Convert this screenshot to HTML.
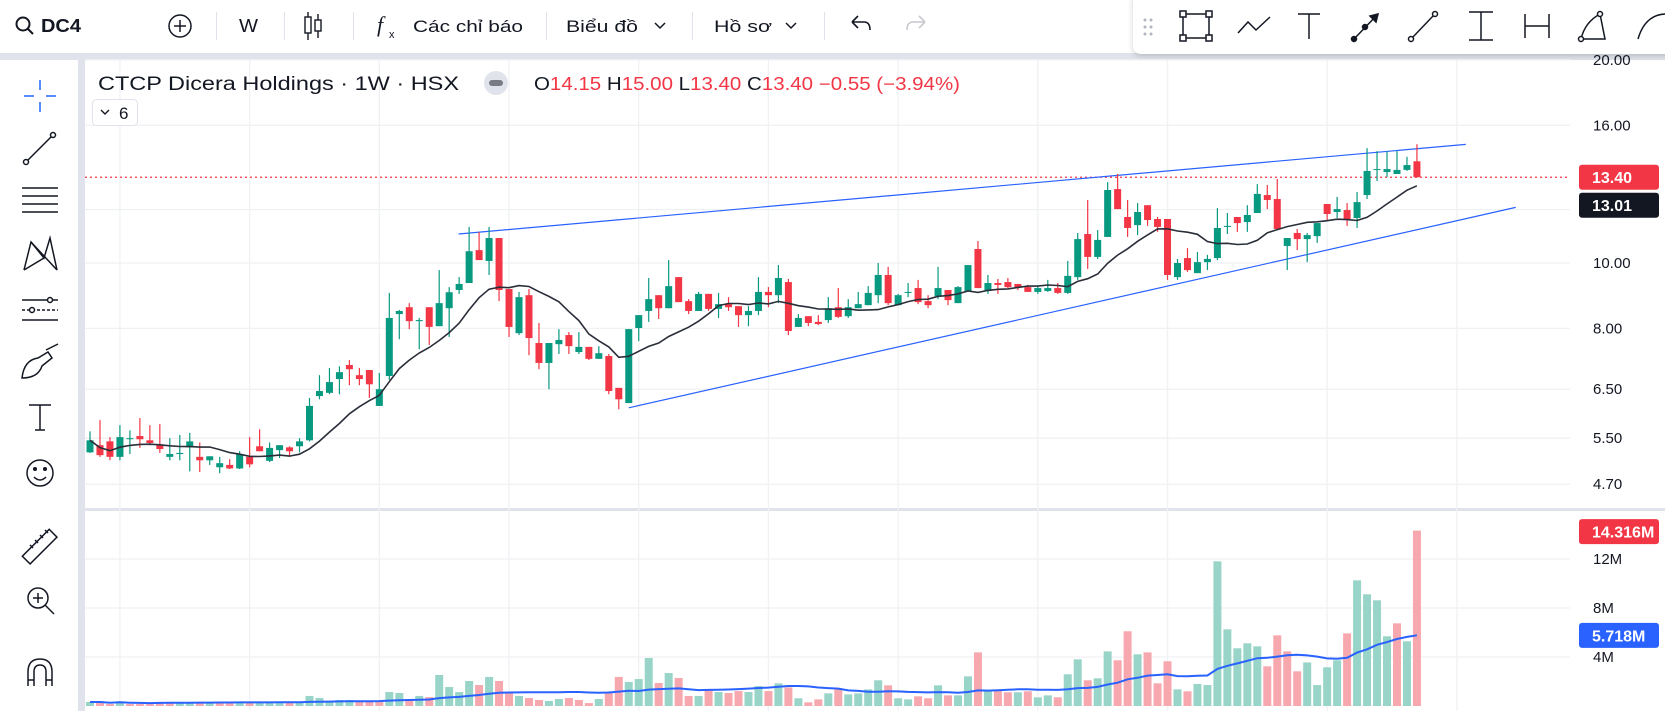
<!DOCTYPE html>
<html><head><meta charset="utf-8"><title>DC4 chart</title>
<style>
html,body{margin:0;padding:0;background:#fff;overflow:hidden}
svg{display:block;font-family:"Liberation Sans","Noto Sans CJK SC",sans-serif}
</style></head>
<body>
<svg id="root" width="1665" height="711" viewBox="0 0 1665 711" xmlns="http://www.w3.org/2000/svg">
<defs>
<clipPath id="pclip"><rect x="85" y="60" width="1485" height="448"/></clipPath>
<clipPath id="vclip"><rect x="85" y="511" width="1485" height="200"/></clipPath>
<filter id="sh" x="-5%" y="-20%" width="110%" height="150%"><feDropShadow dx="0" dy="2" stdDeviation="3" flood-color="#000" flood-opacity="0.18"/></filter>
</defs>
<rect x="0" y="0" width="1665" height="711" fill="#fff"/>
<rect x="0" y="53" width="1665" height="7" fill="#e0e3eb"/>
<rect x="78" y="53" width="7" height="658" fill="#e0e3eb"/>
<rect x="85" y="508" width="1580" height="3" fill="#e0e3eb"/>

<g fill="#131722" stroke="none">
  <g>
    <circle cx="23" cy="24" r="6.5" fill="none" stroke="#131722" stroke-width="2"/>
    <line x1="28" y1="29" x2="33" y2="34" stroke="#131722" stroke-width="2"/>
    <text x="41" y="32" font-size="18" font-weight="bold" textLength="40" lengthAdjust="spacingAndGlyphs">DC4</text>
  </g>
  <g>
    <circle cx="180" cy="26" r="11" fill="none" stroke="#131722" stroke-width="1.5"/>
    <line x1="174" y1="26" x2="186" y2="26" stroke="#131722" stroke-width="1.5"/>
    <line x1="180" y1="20" x2="180" y2="32" stroke="#131722" stroke-width="1.5"/>
  </g>
  <rect x="216" y="12" width="1" height="28" fill="#e0e3eb"/>
  <text x="239" y="32" font-size="18" textLength="19" lengthAdjust="spacingAndGlyphs">W</text>
  <rect x="284" y="12" width="1" height="28" fill="#e0e3eb"/>
  <g stroke="#131722" stroke-width="1.4" fill="none">
    <line x1="308" y1="12" x2="308" y2="40"/><rect x="305" y="17" width="6" height="16" fill="#fff"/>
    <line x1="318" y1="14" x2="318" y2="38"/><rect x="315" y="20" width="6" height="11" fill="#fff"/>
  </g>
  <rect x="353" y="12" width="1" height="28" fill="#e0e3eb"/>
  <g>
    <text x="377" y="32" font-size="22" font-style="italic" font-family="Liberation Serif, serif">f</text>
    <text x="389" y="38" font-size="11">x</text>
    <text x="413" y="32" font-size="17" textLength="110" lengthAdjust="spacingAndGlyphs">Các chỉ báo</text>
  </g>
  <rect x="546" y="12" width="1" height="28" fill="#e0e3eb"/>
  <g>
    <text x="566" y="32" font-size="17" textLength="72" lengthAdjust="spacingAndGlyphs">Biểu đồ</text>
    <polyline points="655,23 660,28 665,23" fill="none" stroke="#131722" stroke-width="1.5"/>
  </g>
  <rect x="692" y="12" width="1" height="28" fill="#e0e3eb"/>
  <g>
    <text x="714" y="32" font-size="17" textLength="58" lengthAdjust="spacingAndGlyphs">Hồ sơ</text>
    <polyline points="786,23 791,28 796,23" fill="none" stroke="#131722" stroke-width="1.5"/>
  </g>
  <rect x="824" y="12" width="1" height="28" fill="#e0e3eb"/>
  <path d="M852 22 L858 16 M852 22 L858 28 M852 22 H864 Q870 22 870 30" fill="none" stroke="#131722" stroke-width="1.6"/>
  <path d="M925 22 L919 16 M925 22 L919 28 M925 22 H913 Q907 22 907 30" fill="none" stroke="#c7c9cf" stroke-width="1.6"/>
</g>

<g>
  <rect x="1133" y="-8" width="545" height="62" rx="8" fill="#fff" filter="url(#sh)"/>
  <g fill="#b2b5be">
    <circle cx="1145" cy="20" r="1.5"/><circle cx="1151" cy="20" r="1.5"/>
    <circle cx="1145" cy="27" r="1.5"/><circle cx="1151" cy="27" r="1.5"/>
    <circle cx="1145" cy="34" r="1.5"/><circle cx="1151" cy="34" r="1.5"/>
  </g>
  <g fill="none" stroke="#131722" stroke-width="1.5">
    <g><rect x="1183" y="14" width="26" height="24"/><rect x="1180" y="11" width="6" height="6" fill="#fff"/><rect x="1206" y="11" width="6" height="6" fill="#fff"/><rect x="1180" y="35" width="6" height="6" fill="#fff"/><rect x="1206" y="35" width="6" height="6" fill="#fff"/></g>
    <polyline points="1238,33 1248,22 1256,30 1270,17"/>
    <g><line x1="1298" y1="14" x2="1320" y2="14"/><line x1="1309" y1="14" x2="1309" y2="39"/></g>
    <g><line x1="1354" y1="39" x2="1378" y2="14"/><polygon points="1378,14 1370,16 1376,22" fill="#131722"/><circle cx="1354" cy="39" r="2.5" fill="#131722"/><circle cx="1365" cy="27" r="2.5" fill="#131722"/></g>
    <g><line x1="1412" y1="38" x2="1434" y2="15"/><circle cx="1411" cy="39" r="2.5" fill="#fff"/><circle cx="1435" cy="14" r="2.5" fill="#fff"/></g>
    <g><line x1="1469" y1="12" x2="1493" y2="12"/><line x1="1469" y1="40" x2="1493" y2="40"/><line x1="1481" y1="12" x2="1481" y2="40"/></g>
    <g><line x1="1525" y1="14" x2="1525" y2="38"/><line x1="1549" y1="14" x2="1549" y2="38"/><line x1="1525" y1="26" x2="1549" y2="26"/></g>
    <g><path d="M1581 39 L1605 39 L1600 14 Q1585 22 1581 39 Z"/><circle cx="1600" cy="14" r="2.5" fill="#fff"/><circle cx="1581" cy="39" r="2.5" fill="#fff"/></g>
    <path d="M1638 39 Q1645 15 1665 14"/>
  </g>
</g>

<g fill="none" stroke="#131722" stroke-width="1.5">
  <g stroke="#2962ff"><line x1="24" y1="96" x2="34" y2="96"/><line x1="46" y1="96" x2="56" y2="96"/><line x1="40" y1="80" x2="40" y2="90"/><line x1="40" y1="102" x2="40" y2="112"/></g>
  <g><line x1="27" y1="161" x2="52" y2="136"/><circle cx="26" cy="162" r="2.5" fill="#fff"/><circle cx="53" cy="135" r="2.5" fill="#fff"/></g>
  <g><line x1="22" y1="188" x2="58" y2="188"/><line x1="22" y1="196" x2="58" y2="196"/><line x1="22" y1="204" x2="58" y2="204"/><line x1="22" y1="212" x2="58" y2="212"/></g>
  <g><polyline points="24,270 31,242 44,258 50,238 57,270"/><line x1="24" y1="270" x2="44" y2="258"/><line x1="31" y1="242" x2="57" y2="270"/></g>
  <g><line x1="22" y1="300" x2="58" y2="300"/><line x1="22" y1="310" x2="58" y2="310" stroke-dasharray="3 2"/><line x1="22" y1="320" x2="58" y2="320"/><circle cx="32" cy="310" r="2.5" fill="#fff"/><circle cx="50" cy="300" r="2.5" fill="#fff"/></g>
  <path d="M22 378 Q24 360 38 358 L48 352 L52 358 L42 366 Q38 378 22 378 Z M46 350 L58 344"/>
  <g><line x1="29" y1="405" x2="51" y2="405"/><line x1="40" y1="405" x2="40" y2="430"/><line x1="35" y1="430" x2="45" y2="430"/></g>
  <g><circle cx="40" cy="473" r="13"/><circle cx="35" cy="469" r="1.3" fill="#131722"/><circle cx="45" cy="469" r="1.3" fill="#131722"/><path d="M34 477 Q40 483 46 477"/></g>
  <g><rect x="21" y="541" width="38" height="11" transform="rotate(-45 40 547)"/><line x1="33" y1="548" x2="30" y2="545"/><line x1="38" y1="543" x2="35" y2="540"/><line x1="43" y1="538" x2="40" y2="535"/><line x1="48" y1="533" x2="45" y2="530"/></g>
  <g><circle cx="38" cy="598" r="10"/><line x1="45" y1="605" x2="54" y2="614"/><line x1="33" y1="598" x2="43" y2="598"/><line x1="38" y1="593" x2="38" y2="603"/></g>
  <path d="M28 686 V672 Q28 659 40 659 Q52 659 52 672 V686 M28 680 H34 M46 680 H52 M34 686 V672 Q34 665 40 665 Q46 665 46 672 V686"/>
</g>

<g id="grid"></g>
<g id="lines" clip-path="url(#pclip)"></g>
<g id="vol" clip-path="url(#vclip)"></g>
<g id="axis"></g>

<g>
  <text x="98" y="90" font-size="19" fill="#131722" textLength="361" lengthAdjust="spacingAndGlyphs">CTCP Dicera Holdings · 1W · HSX</text>
  <g><circle cx="496" cy="83" r="12" fill="#e0e3eb"/><rect x="489" y="80" width="14" height="6" rx="3" fill="#787b86"/></g>
  <text x="534" y="90" font-size="18" fill="#f23645" textLength="426" lengthAdjust="spacingAndGlyphs"><tspan fill="#131722">O</tspan>14.15 <tspan fill="#131722">H</tspan>15.00 <tspan fill="#131722">L</tspan>13.40 <tspan fill="#131722">C</tspan>13.40 −0.55 (−3.94%)</text>
  <g>
    <rect x="92.5" y="99.5" width="45" height="26" rx="4" fill="#fff" stroke="#e0e3eb"/>
    <polyline points="101,110 105,114 109,110" fill="none" stroke="#131722" stroke-width="1.4"/>
    <text x="119" y="119" font-size="17" fill="#131722">6</text>
  </g>
</g>
</svg>
<script>
const opens=[5.24,5.37,5.44,5.16,5.48,5.54,5.46,5.37,5.16,5.21,5.33,5.16,5.10,4.98,5.02,4.96,5.16,5.35,5.09,5.28,5.33,5.35,5.46,6.35,6.42,6.73,7.06,6.82,6.94,6.14,6.80,8.40,8.60,8.20,8.60,8.06,8.57,9.12,9.34,10.45,10.07,10.89,9.15,7.87,8.96,7.61,7.11,7.58,7.82,7.38,7.51,7.21,7.28,6.53,6.20,8.01,8.49,8.96,8.57,9.53,8.78,8.49,9.00,8.55,8.69,8.63,8.37,8.49,9.06,8.96,9.37,8.04,8.34,8.18,8.23,8.60,8.34,8.57,8.66,8.96,9.60,8.66,9.03,9.18,8.78,8.93,9.12,8.72,9.09,10.49,9.09,9.34,9.37,9.31,9.21,9.06,9.09,9.18,9.03,9.53,11.04,10.21,10.93,12.87,11.70,11.38,12.18,11.62,11.62,9.53,10.17,9.66,10.03,10.17,11.31,11.70,11.50,11.86,12.61,12.44,10.60,11.08,10.85,10.96,12.23,11.90,11.98,11.66,12.61,13.74,13.64,13.55,13.74,14.15];
const highs=[5.63,5.85,5.52,5.75,5.65,5.89,5.75,5.77,5.50,5.56,5.60,5.42,5.17,5.16,5.12,5.26,5.52,5.67,5.42,5.37,5.35,5.50,6.31,6.82,6.99,7.03,7.18,6.99,6.94,6.87,9.03,8.52,8.72,8.29,8.60,9.76,9.21,9.53,11.31,11.12,11.31,10.89,9.15,9.06,9.15,8.15,7.61,7.98,7.90,7.90,7.51,7.53,7.33,6.53,7.98,8.37,9.50,8.96,10.10,9.53,8.84,9.06,9.00,9.03,8.90,8.63,8.63,9.53,9.21,9.93,9.47,8.40,8.34,8.37,8.90,9.18,8.84,9.06,9.24,10.00,9.87,9.00,9.34,9.44,8.96,9.87,9.12,9.24,9.93,10.78,9.60,9.47,9.50,9.31,9.28,9.24,9.44,9.34,10.07,11.08,12.40,11.19,13.18,13.55,12.40,12.27,12.18,11.70,11.62,10.14,10.52,10.38,10.28,12.06,11.86,11.70,12.18,13.09,13.05,13.32,10.89,11.23,11.08,11.46,12.23,12.53,12.27,12.74,14.80,14.65,14.65,14.65,14.37,15.00];
const lows=[5.23,5.16,5.10,5.10,5.21,5.32,5.37,5.23,5.10,5.10,4.91,4.90,5.02,4.88,4.95,4.95,4.98,5.26,5.07,5.14,5.16,5.24,5.44,6.28,6.39,6.39,6.59,6.59,6.31,6.14,6.71,7.71,7.98,7.45,7.56,8.06,7.77,9.00,9.34,10.10,9.60,8.78,7.77,7.82,7.30,6.96,6.50,7.33,7.33,7.33,7.18,7.21,6.39,6.07,6.20,7.66,8.18,8.26,8.57,8.75,8.40,8.49,8.49,8.29,8.49,8.04,8.06,8.37,8.60,8.72,7.82,8.04,8.06,8.09,8.15,8.29,8.29,8.57,8.66,8.72,8.66,8.66,8.90,8.69,8.57,8.84,8.66,8.72,9.09,9.18,9.00,9.00,9.18,9.12,9.06,9.00,9.06,9.00,9.00,9.44,9.80,10.14,10.93,12.02,10.93,11.00,11.35,11.12,9.44,9.44,9.70,9.66,9.76,10.10,11.04,11.12,11.12,11.86,12.02,11.23,9.76,10.45,10.03,10.71,11.58,11.66,11.35,11.27,12.44,13.23,13.41,13.55,13.69,13.40];
const closes=[5.46,5.19,5.16,5.52,5.50,5.48,5.41,5.30,5.21,5.23,5.44,5.10,5.17,5.05,4.96,5.21,5.03,5.26,5.32,5.37,5.26,5.44,6.14,6.46,6.66,6.89,6.96,6.73,6.61,6.50,8.29,8.49,8.20,8.23,8.04,8.72,9.05,9.31,10.41,10.10,10.89,9.12,8.04,8.90,7.74,7.11,7.61,7.69,7.53,7.51,7.21,7.35,6.46,6.28,7.98,8.37,8.84,8.57,9.24,8.75,8.49,9.00,8.55,8.69,8.60,8.37,8.49,9.06,8.96,9.50,7.93,8.29,8.15,8.12,8.57,8.32,8.60,8.69,9.03,9.60,8.72,8.96,9.06,8.75,8.66,9.18,8.81,9.21,9.93,9.18,9.34,9.28,9.21,9.21,9.06,9.18,9.18,9.03,9.57,10.85,10.21,10.82,12.83,12.02,11.27,11.90,11.58,11.31,9.60,10.00,9.76,10.03,10.14,11.27,11.35,11.46,11.78,12.66,12.40,11.23,10.89,10.85,11.00,11.46,11.82,12.02,11.62,12.31,13.69,13.78,13.78,13.74,13.97,13.40];
const volumes=[0.33,0.33,0.16,0.38,0.16,0.16,0.16,0.33,0.33,0.33,0.33,0.33,0.33,0.33,0.33,0.33,0.33,0.33,0.33,0.33,0.33,0.33,0.82,0.65,0.41,0.49,0.49,0.38,0.38,0.38,1.14,1.06,0.57,0.82,0.73,2.53,1.55,1.14,2.04,1.71,2.37,2.04,1.14,0.82,0.65,0.49,0.41,0.57,0.65,0.49,0.24,0.57,1.06,2.37,1.96,2.20,3.92,1.88,2.69,2.29,0.82,0.82,1.31,1.14,1.06,1.22,1.14,1.63,1.22,1.85,1.52,0.63,0.30,0.54,1.03,1.44,0.95,1.03,1.36,2.10,1.69,0.63,0.54,0.79,0.63,1.69,0.87,0.87,2.42,4.38,1.28,1.28,1.12,1.12,1.20,0.71,0.87,0.71,2.59,3.81,2.10,2.26,4.46,3.73,6.10,4.22,4.38,1.85,3.65,1.36,1.20,1.80,1.71,11.81,6.26,4.71,5.12,4.87,3.24,5.77,4.46,2.83,3.56,1.71,3.16,3.73,5.93,10.26,9.12,8.63,5.69,6.75,5.28,14.316];
const priceTicks=[20,16,12,10,8,6.5,5.5,4.7];
const priceTickLabels=["20.00","16.00","","10.00","8.00","6.50","5.50","4.70"];
const volTicks=[12,8,4];
const volTickLabels=["12M","8M","4M"];
const gridIdx=[3,16,29,42,55,68,81,95,108,124,137];
const upperTrend=[[36.95,11.04],[137.9,14.99]];
const lowerTrend=[[54.0,6.10],[142.9,12.09]];
const maPeriod=10, volMaPeriod=20;

const NS="http://www.w3.org/2000/svg";
const UP="#089981", DN="#f23645", UPV="#98d5c8", DNV="#f7a8ae";
function xOf(i){return 90+i*9.977;}
function yP(p){return 263-293*Math.log(p/10);}
function yV(v){return 706-v*12.25;}
function mk(tag,attrs,parent){const e=document.createElementNS(NS,tag);for(const k in attrs)e.setAttribute(k,attrs[k]);parent.appendChild(e);return e;}
const grid=document.getElementById('grid'), lines=document.getElementById('lines'), vol=document.getElementById('vol'), axis=document.getElementById('axis');

priceTicks.forEach((p,k)=>{
  const g=mk('line',{x1:85,x2:1570,y1:yP(p),y2:yP(p),stroke:'#f0f1f3','stroke-width':1.3},grid);
  
  
  if(priceTickLabels[k]){
    const t=mk('text',{x:1593,y:yP(p)+5,'font-size':15,fill:'#131722'},axis);
    t.textContent=priceTickLabels[k];
    
    
  }
});
volTicks.forEach((v,k)=>{
  const g=mk('line',{x1:85,x2:1570,y1:yV(v),y2:yV(v),stroke:'#f0f1f3','stroke-width':1.3},grid);
  
  
  const t=mk('text',{x:1593,y:yV(v)+5,'font-size':15,fill:'#131722'},axis);
  t.textContent=volTickLabels[k];
  
  
});
gridIdx.forEach(i=>{
  const g=mk('line',{x1:xOf(i),x2:xOf(i),y1:60,y2:711,stroke:'#f0f1f3','stroke-width':1.3},grid);
  
  
});

const n=closes.length;
for(let i=0;i<n;i++){
  const prev=i>0?closes[i-1]:opens[i];
  const b=mk('rect',{x:xOf(i)-4,y:yV(volumes[i]),width:8,height:volumes[i]*12.25,fill:closes[i]>=prev?UPV:DNV},vol);
  
  
}
let vpts=[];
for(let i=0;i<n;i++){let s=0,c=0;for(let j=Math.max(0,i-volMaPeriod+1);j<=i;j++){s+=volumes[j];c++;}vpts.push(xOf(i).toFixed(1)+','+yV(s/c).toFixed(1));}
const vma=mk('polyline',{points:vpts.join(' '),fill:'none',stroke:'#2962ff','stroke-width':2},vol);



const pl=mk('line',{x1:85,x2:1570,y1:yP(closes[n-1]),y2:yP(closes[n-1]),stroke:DN,'stroke-width':1.2,'stroke-dasharray':'2 3'},lines);



[upperTrend,lowerTrend].forEach((t,k)=>{
  const l=mk('line',{x1:xOf(t[0][0]),y1:yP(t[0][1]),x2:xOf(t[1][0]),y2:yP(t[1][1]),stroke:'#2962ff','stroke-width':1.2},lines);
  
  
});

for(let i=0;i<n;i++){
  const up=closes[i]>=opens[i], col=up?UP:DN, x=xOf(i);
  const g=mk('g',{},lines);
  
  
  mk('line',{x1:x,x2:x,y1:yP(highs[i]),y2:yP(lows[i]),stroke:col,'stroke-width':1.2},g);
  const top=yP(Math.max(opens[i],closes[i])), bot=yP(Math.min(opens[i],closes[i]));
  mk('rect',{x:x-3.5,y:top,width:7,height:Math.max(1,bot-top),fill:col},g);
}
let mpts=[];
for(let i=0;i<n;i++){let s=0,c=0;for(let j=Math.max(0,i-maPeriod+1);j<=i;j++){s+=closes[j];c++;}mpts.push(xOf(i).toFixed(1)+','+yP(s/c).toFixed(1));}
const ma=mk('polyline',{points:mpts.join(' '),fill:'none',stroke:'#2a2e39','stroke-width':1.6},lines);


let lastMa=0;for(let j=n-maPeriod;j<n;j++)lastMa+=closes[j];lastMa/=maPeriod;
let lastVma=0;for(let j=n-volMaPeriod;j<n;j++)lastVma+=volumes[j];lastVma/=volMaPeriod;

function tag(y,bg,txt,name){
  const g=mk('g',{},axis);
  
  
  mk('rect',{x:1579,y:y-12.5,width:80,height:25,rx:3,fill:bg},g);
  const t=mk('text',{x:1592,y:y+6,'font-size':16,'font-weight':'bold',fill:'#fff'},g);
  t.textContent=txt;
}
tag(yP(closes[n-1]),DN,closes[n-1].toFixed(2),'last-price-tag');
tag(Math.max(yP(lastMa),yP(closes[n-1])+28),'#131722',lastMa.toFixed(2),'ma-value-tag');
tag(yV(volumes[n-1])+1,DN,volumes[n-1].toFixed(3)+'M','volume-tag');
tag(yV(lastVma),'#2962ff',(5.718).toFixed(3)+'M','volume-ma-tag');
</script>
</body></html>
